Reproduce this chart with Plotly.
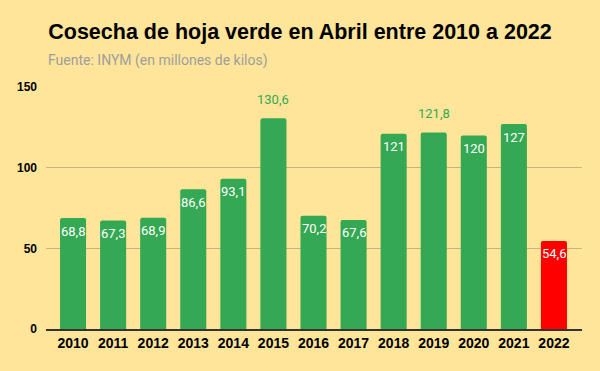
import plotly.graph_objects as go

years = ["2010", "2011", "2012", "2013", "2014", "2015", "2016", "2017", "2018", "2019", "2020", "2021", "2022"]
values = [68.8, 67.3, 68.9, 86.6, 93.1, 130.6, 70.2, 67.6, 121, 121.8, 120, 127, 54.6]
label_pos = ["inside", "inside", "inside", "inside", "inside", "outside", "inside", "inside", "inside", "outside", "inside", "inside", "inside"]
y_ticks = [0, 50, 100, 150]

green = "#34A853"
red = "#FF0000"
colors = [red if y == "2022" else green for y in years]
labels = [f"{v:g}".replace(".", ",") for v in values]

fig = go.Figure(go.Bar(
    x=years, y=values, marker_color=colors, marker_line_width=0,
    cliponaxis=False, hoverinfo="skip",
))

annotations = []
for i, (v, lab, pos) in enumerate(zip(values, labels, label_pos)):
    inside = pos == "inside"
    annotations.append(dict(
        x=i, y=v, xref="x", yref="y", text=lab, showarrow=False,
        xanchor="center", yanchor="middle", yshift=-13 if inside else 19,
        font=dict(family="Roboto", size=13, color="#FFFFFF" if inside else green),
    ))
annotations.append(dict(text="Fuente: INYM (en millones de kilos)", xref="paper", yref="paper",
                        x=0, y=1 + 27/242, xanchor="left", yanchor="middle", showarrow=False,
                        font=dict(family="Roboto", size=14, color="#9E9E9E")))

fig.update_layout(
    width=600, height=371,
    paper_bgcolor="#FFE599", plot_bgcolor="#FFE599",
    margin=dict(l=46, r=18, t=87, b=42),
    bargap=0.35, barcornerradius=2,
    showlegend=False,
    title=dict(text="Cosecha de hoja verde en Abril entre 2010 a 2022",
               font=dict(family="Arial", size=21.5, color="#000000", weight="bold"),
               x=0.5, xanchor="center", xref="container", y=1 - 31/371, yanchor="middle", yref="container"),
    annotations=annotations,
    xaxis=dict(type="category", range=[-0.675, 12.7], showgrid=False, showline=True, linecolor="#333333", linewidth=1.5,
               tickfont=dict(family="Arial", size=14, color="#000000", weight="bold"), ticks=""),
    yaxis=dict(range=[0, 150], tickvals=y_ticks, showgrid=True, gridcolor="#C8B47F", gridwidth=1,
               zeroline=False, tickfont=dict(family="Arial", size=12, color="#000000", weight="bold"),
               ticks="", ticklabelstandoff=8),
)

fig.write_html("out.html", config={"displayModeBar": False},
               post_script="document.body.style.margin='0';")
